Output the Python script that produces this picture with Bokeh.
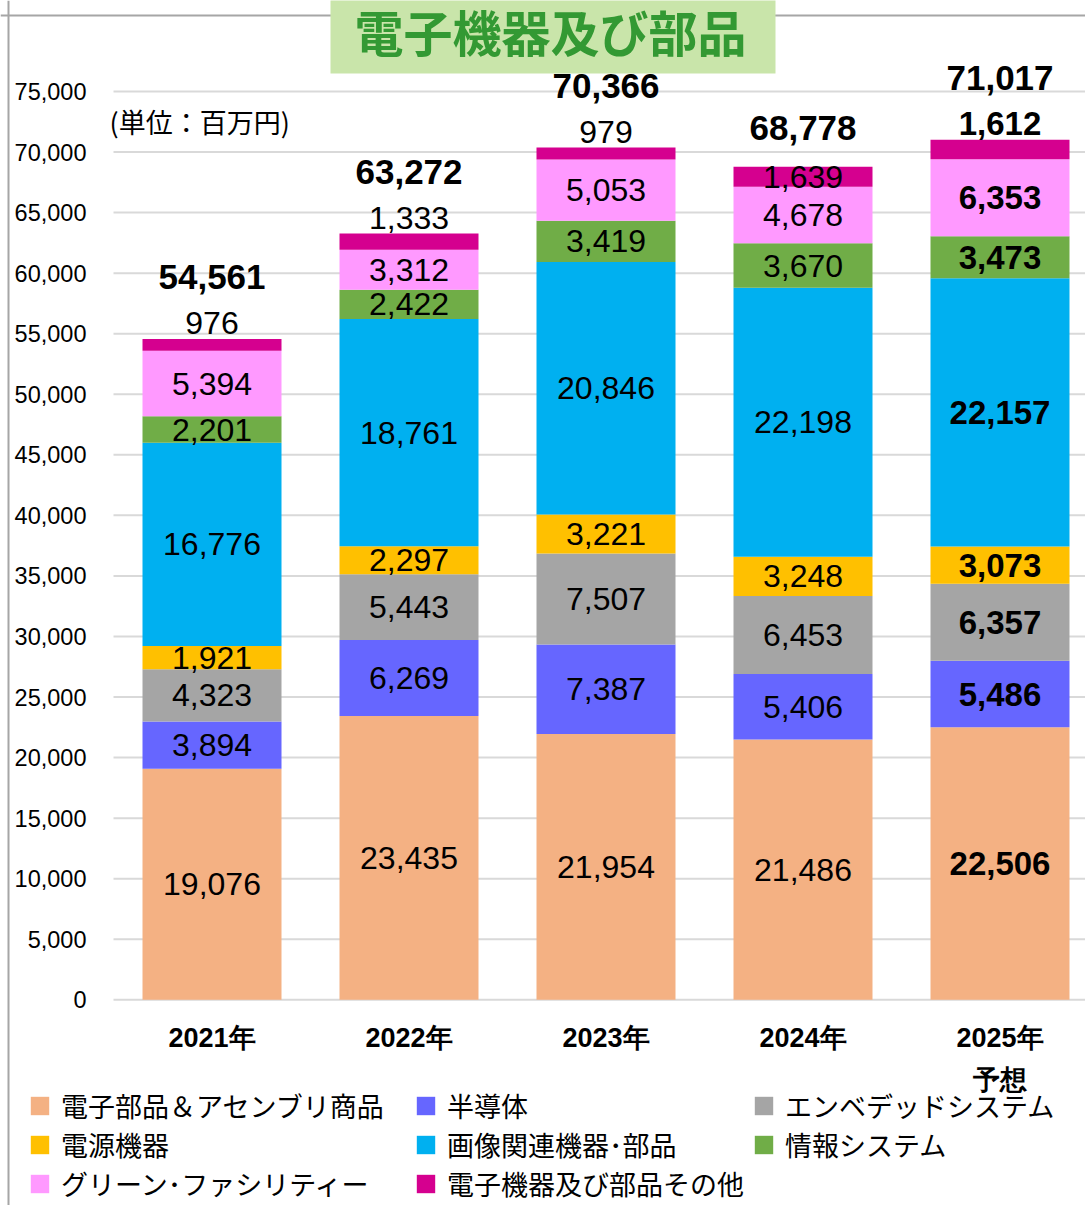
from bokeh.plotting import figure
from bokeh.models import (ColumnDataSource, Range1d, LinearAxis, FixedTicker,
                          NumeralTickFormatter, Label, BoxAnnotation, Span, Legend, LegendItem)
from bokeh.core.properties import value
from bokeh.embed import file_html
from bokeh.resources import INLINE

# ---------------- data ----------------
years = ["2021年", "2022年", "2023年", "2024年", "2025年\n予想"]
series = ["電子部品＆アセンブリ商品", "半導体", "エンベデッドシステム", "電源機器",
          "画像関連機器･部品", "情報システム", "グリーン･ファシリティー", "電子機器及び部品その他"]
electronic_parts = [19076, 23435, 21954, 21486, 22506]
semiconductors = [3894, 6269, 7387, 5406, 5486]
embedded_systems = [4323, 5443, 7507, 6453, 6357]
power_equipment = [1921, 2297, 3221, 3248, 3073]
imaging_equipment = [16776, 18761, 20846, 22198, 22157]
info_systems = [2201, 2422, 3419, 3670, 3473]
green_facility = [5394, 3312, 5053, 4678, 6353]
others = [976, 1333, 979, 1639, 1612]
totals = [54561, 63272, 70366, 68778, 71017]
yticks = list(range(0, 75001, 5000))
forecast = [False, False, False, False, True]
others_label_inside = [False, False, False, True, False]

colors = ["#F4B183", "#6666FF", "#A5A5A5", "#FFC000", "#00B0F0", "#70AD47", "#FF99FF", "#D5008F"]
values_list = [electronic_parts, semiconductors, embedded_systems, power_equipment,
               imaging_equipment, info_systems, green_facility, others]

# ---------------- layout (pixels) ----------------
W, H = 1085, 1205
CAT0, CATW = 211.5, 197.0    # page x of first category centre, category pitch
Y0, PPV = 999.3, 908.3 / 75000.0   # page y of value 0, px per value unit
BAR_W = 139.0 / CATW

x_start = (0 - CAT0) / CATW
x_end = (W - CAT0) / CATW
y_top = Y0 / PPV
y_bottom = (Y0 - H) / PPV

def sx(px):
    return px

def sy(py):
    return H - py

p = figure(width=W, height=H, x_range=Range1d(x_start, x_end), y_range=Range1d(y_bottom, y_top),
           x_axis_type=None, y_axis_type=None, toolbar_location=None, output_backend="svg",
           min_border=0, title=None)
p.outline_line_color = None
p.background_fill_color = "white"
p.border_fill_color = "white"

xs = list(range(len(years)))
left_edge = xs[0] - 0.5

# borders of the chart area
p.add_layout(Span(location=sy(15), location_units="screen", dimension="width",
                  line_color="#a6a6a6", line_width=2))
p.add_layout(Span(location=sx(8), location_units="screen", dimension="height",
                  line_color="#a6a6a6", line_width=2))

# grid lines
p.segment(x0=left_edge, x1=x_end, y0=yticks, y1=yticks, line_color="#d9d9d9", line_width=2)

# stacked bars
keys = [f"s{i}" for i in range(len(series))]
src = ColumnDataSource(dict(x=xs, **{k: v for k, v in zip(keys, values_list)}))
bars = p.vbar_stack(keys, x="x", width=BAR_W, source=src, fill_color=colors, line_color=None)

# segment labels
lx, ly, lt, lstyle, lsize, loff = [], [], [], [], [], []
for j in xs:
    base = 0
    for i, vals in enumerate(values_list):
        v = vals[j]
        lx.append(j)
        lt.append(f"{v:,}")
        lstyle.append("bold" if forecast[j] else "normal")
        lsize.append("33px" if forecast[j] else "32px")
        if i == len(values_list) - 1 and not others_label_inside[j]:
            ly.append(base + v)
            loff.append(-16)
        else:
            ly.append(base + v / 2)
            loff.append(0)
        base += v
lab = ColumnDataSource(dict(x=lx, y=ly, text=lt, style=lstyle, size=lsize, off=loff))
p.text(x="x", y="y", text="text", source=lab, y_offset="off", text_font=value("Liberation Sans"),
       text_font_size="size", text_font_style="style", text_align="center",
       text_baseline="middle", text_color="black")

# totals
tot_off = [-39 if inside else -62 for inside in others_label_inside]
tsrc = ColumnDataSource(dict(x=xs, y=totals, text=[f"{t:,}" for t in totals], off=tot_off))
p.text(x="x", y="y", text="text", source=tsrc, y_offset="off", text_font=value("Liberation Sans"),
       text_font_size="35px", text_font_style="bold", text_align="center",
       text_baseline="middle", text_color="black")

# axes
yaxis = LinearAxis(ticker=FixedTicker(ticks=yticks), formatter=NumeralTickFormatter(format="0,0"),
                   fixed_location=left_edge)
yaxis.axis_line_color = None
yaxis.major_tick_line_color = None
yaxis.minor_tick_line_color = None
yaxis.major_label_text_font = "Liberation Sans"
yaxis.major_label_text_font_size = "23.5px"
yaxis.major_label_text_color = "black"
yaxis.major_label_standoff = 21
p.add_layout(yaxis, "left")

xaxis = LinearAxis(ticker=FixedTicker(ticks=xs), fixed_location=0,
                   major_label_overrides={j: years[j] for j in xs})
xaxis.axis_line_color = None
xaxis.major_tick_line_color = None
xaxis.minor_tick_line_color = None
xaxis.major_label_text_font = "Liberation Sans"
xaxis.major_label_text_font_size = "27px"
xaxis.major_label_text_font_style = "bold"
xaxis.major_label_text_color = "black"
xaxis.major_label_text_line_height = 1.4
xaxis.major_label_standoff = 17
p.add_layout(xaxis, "below")

# title box
p.add_layout(BoxAnnotation(left=sx(330), right=sx(775), top=sy(-5), bottom=sy(73),
                           left_units="screen", right_units="screen", top_units="screen",
                           bottom_units="screen", fill_color="#C9E5AA", fill_alpha=1.0,
                           line_color=None))
p.add_layout(Label(x=sx(550), y=sy(30), x_units="screen", y_units="screen", text="電子機器及び部品",
                   text_font="Noto Sans CJK JP", text_font_size="49px", text_font_style="bold",
                   text_color="#339933", text_align="center", text_baseline="middle"))

# unit note
p.add_layout(Label(x=sx(109), y=sy(121), x_units="screen", y_units="screen", text="(単位：百万円)",
                   text_font="Noto Sans CJK JP", text_font_size="27px", text_color="black",
                   text_align="left", text_baseline="middle"))

# legend: three columns, filled row by row
ncol = 3
col_x = [28, 414, 752]
row_h = 39
for c in range(ncol):
    idx = list(range(c, len(series), ncol))
    items = [LegendItem(label=series[i], renderers=[bars[i]]) for i in idx]
    nrows_full = (len(series) + ncol - 1) // ncol
    lg = Legend(items=items, location=(sx(col_x[c]), 2 + (nrows_full - len(idx)) * row_h))
    lg.label_text_font = "Noto Sans CJK JP"
    lg.label_text_font_size = "27px"
    lg.label_text_color = "black"
    lg.glyph_width = 23
    lg.glyph_height = 23
    lg.label_standoff = 10
    lg.label_height = 30
    lg.spacing = 0
    lg.padding = 0
    lg.margin = 0
    lg.border_line_color = None
    lg.background_fill_alpha = 0
    p.add_layout(lg, "center")

open("out.html", "w").write(file_html(p, INLINE))
